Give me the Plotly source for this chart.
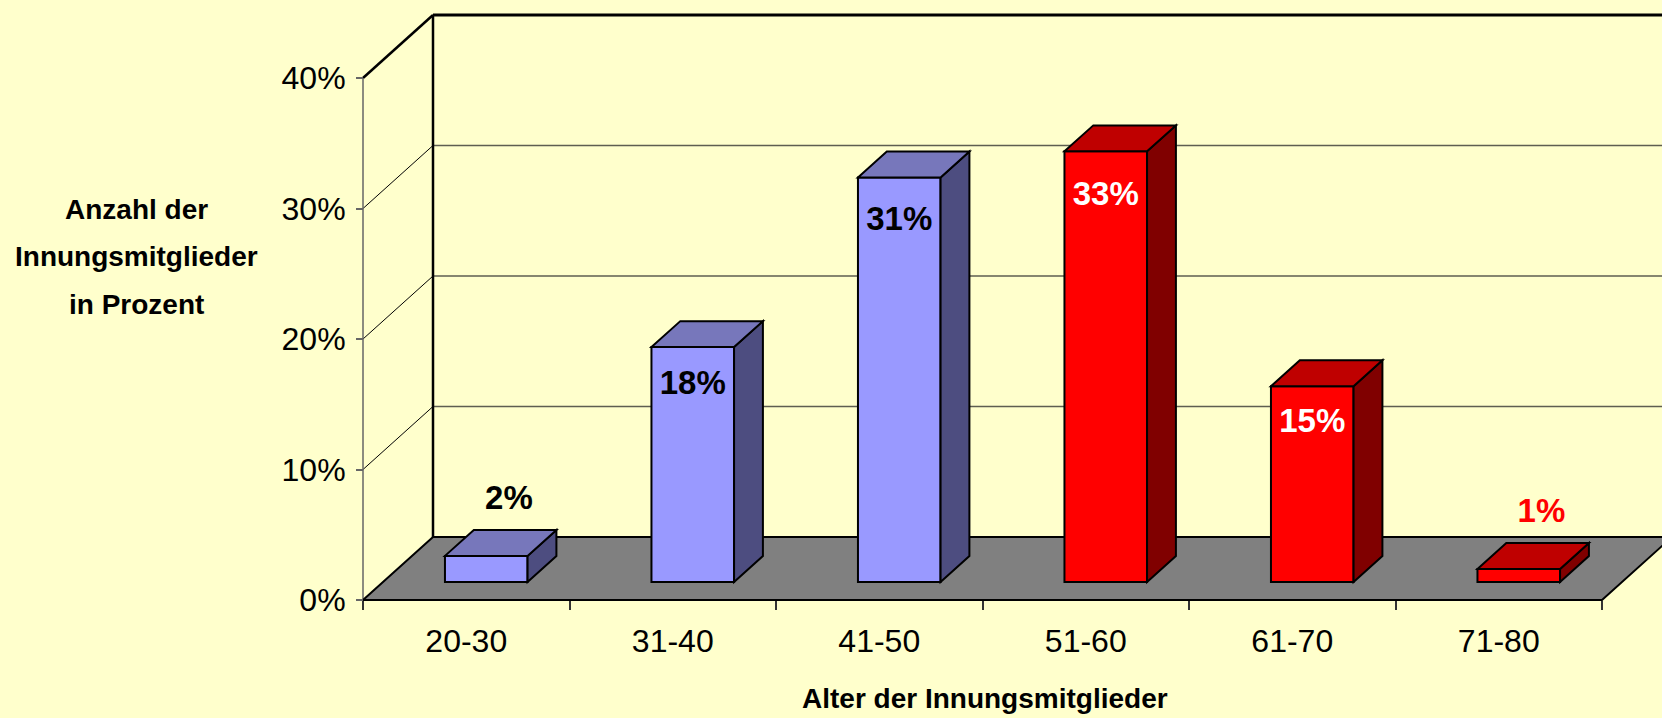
import plotly.graph_objects as go

# ---------------- data ----------------
categories = ["20-30", "31-40", "41-50", "51-60", "61-70", "71-80"]
values = [2, 18, 31, 33, 15, 1]
series_group = ["blue", "blue", "blue", "red", "red", "red"]
y_ticks = [0, 10, 20, 30, 40]
y_tick_labels = ["0%", "10%", "20%", "30%", "40%"]
x_title = "Alter der Innungsmitglieder"
y_title_lines = ["Anzahl der", "Innungsmitglieder", "in Prozent"]

# ---------------- styles ----------------
W, H = 1662, 718
BG = "#FFFFCC"
FACE = {
    "blue": {"front": "#9999FF", "top": "#7777BB", "side": "#4D4D80"},
    "red": {"front": "#FF0000", "top": "#BF0000", "side": "#800000"},
}
LABEL_INSIDE_COLOR = {"blue": "#000000", "red": "#FFFFFF"}
LABEL_OUTSIDE_COLOR = {"blue": "#000000", "red": "#FF0000"}
FONT = "Liberation Sans Narrow, Arial Narrow, Liberation Sans, Arial, sans-serif"

# pixel geometry of the pseudo-3D projection
ML, MR, MT, MB = 330, 0, 0, 100
PLOT_W, PLOT_H = W - ML - MR, H - MT - MB
AXIS_X_PX, AXIS_Y_PX = 363, 600           # front axis origin (pixels)
PX_PER_CAT, PX_PER_PCT = 206.5, 13.05
DX = 70 / PX_PER_CAT                      # depth offset in category units
DY = 63 / PX_PER_PCT                      # depth offset in percent units
T0, T1 = 0.286, 0.698                     # bar depth span (0=front, 1=back)
BAR_W = 0.40
N = len(categories)
Y_MAX = y_ticks[-1]

x_range = [(ML - AXIS_X_PX) / PX_PER_CAT, (W - MR - AXIS_X_PX) / PX_PER_CAT]
y_range = [(AXIS_Y_PX - (MT + PLOT_H)) / PX_PER_PCT, (AXIS_Y_PX - MT) / PX_PER_PCT]


def px_to_paper(px, py):
    return (px - ML) / PLOT_W, (MT + PLOT_H - py) / PLOT_H


def proj(x, y, t):
    return x + t * DX, y + t * DY


def path(points):
    return "M " + " L ".join(f"{x:.4f},{y:.4f}" for x, y in points) + " Z"


shapes = []


def poly(points, fill, lw=2, lc="#000000"):
    shapes.append(dict(type="path", path=path(points), xref="x", yref="y",
                       fillcolor=fill, line=dict(color=lc, width=lw), layer="below"))


def line(p1, p2, color, width):
    shapes.append(dict(type="line", xref="x", yref="y", x0=p1[0], y0=p1[1],
                       x1=p2[0], y1=p2[1], line=dict(color=color, width=width),
                       layer="below"))


# back wall gridlines
for v in y_ticks[1:-1]:
    line(proj(0, v, 1), proj(N + 1, v, 1), "#5E5E50", 1.5)
# side wall diagonals
for v in y_ticks[1:-1]:
    line(proj(0, v, 0), proj(0, v, 1), "#000000", 1)
line(proj(0, Y_MAX, 0), proj(0, Y_MAX, 1), "#000000", 2.5)
# back wall frame
line(proj(0, 0, 1), proj(0, Y_MAX, 1), "#000000", 2.5)
line(proj(0, Y_MAX, 1), proj(N + 1, Y_MAX, 1), "#000000", 3)
# front value axis line
line((0, 0), (0, Y_MAX), "#666666", 1.5)
# floor
poly([proj(0, 0, 0), proj(N, 0, 0), proj(N, 0, 1), proj(0, 0, 1)], "#808080", lw=2)

# bars
lab_x, lab_y, lab_text, lab_color = [], [], [], []
for i, (v, g) in enumerate(zip(values, series_group)):
    c = i + 0.5
    xl, xr = c - BAR_W / 2, c + BAR_W / 2
    poly([proj(xl, 0, T0), proj(xr, 0, T0), proj(xr, v, T0), proj(xl, v, T0)], FACE[g]["front"])
    poly([proj(xr, 0, T0), proj(xr, 0, T1), proj(xr, v, T1), proj(xr, v, T0)], FACE[g]["side"])
    poly([proj(xl, v, T0), proj(xr, v, T0), proj(xr, v, T1), proj(xl, v, T1)], FACE[g]["top"])
    if v >= 5:
        x, y = proj(c, v - (2.3 + 0.036 * v), T0)
        col = LABEL_INSIDE_COLOR[g]
    else:
        x = proj(c + 0.04, 0, (T0 + T1) / 2)[0]
        y = v + T1 * DY + 2.25
        col = LABEL_OUTSIDE_COLOR[g]
    lab_x.append(x)
    lab_y.append(y)
    lab_text.append(f"{v}%")
    lab_color.append(col)

fig = go.Figure()
fig.add_trace(go.Scatter(
    x=lab_x, y=lab_y, text=lab_text, mode="text",
    textfont=dict(family=FONT, size=33, color=lab_color, weight="bold"),
    textposition="middle center", hoverinfo="skip", showlegend=False,
    cliponaxis=False,
))
# invisible trace on the tick-mark axis
fig.add_trace(go.Scatter(x=[0], y=[0], xaxis="x2", mode="markers",
                         marker=dict(opacity=0), hoverinfo="skip", showlegend=False))

xpos = px_to_paper(0, AXIS_Y_PX)[1]
ypos = px_to_paper(AXIS_X_PX, 0)[0]

annotations = []
ax, ay = px_to_paper(985, 698)
annotations.append(dict(text=x_title, x=ax, y=ay, xref="paper", yref="paper",
                        showarrow=False, xanchor="center", yanchor="middle",
                        font=dict(family=FONT, size=28, color="#000000", weight="bold")))
for k, t in enumerate(y_title_lines):
    tx, ty = px_to_paper(136, 209 + 47.5 * k)
    annotations.append(dict(text=t, x=tx, y=ty, xref="paper", yref="paper",
                            showarrow=False, xanchor="center", yanchor="middle",
                            font=dict(family=FONT, size=28, color="#000000", weight="bold")))

fig.update_layout(
    width=W, height=H,
    margin=dict(l=ML, r=MR, t=MT, b=MB, pad=0),
    paper_bgcolor=BG, plot_bgcolor=BG,
    shapes=shapes, annotations=annotations,
    showlegend=False,
    xaxis=dict(range=x_range, anchor="free", position=xpos,
               tickmode="array", tickvals=[i + 0.5 for i in range(N)], ticktext=categories,
               ticks="", ticklabelstandoff=19, showline=False, showgrid=False, zeroline=False,
               tickfont=dict(family=FONT, size=32, color="#000000")),
    xaxis2=dict(range=x_range, anchor="free", position=xpos, overlaying="x",
                tickmode="array", tickvals=list(range(N + 1)), ticks="outside",
                ticklen=9, tickwidth=1.5, tickcolor="#333333", showticklabels=False,
                showline=False, showgrid=False, zeroline=False),
    yaxis=dict(range=y_range, anchor="free", position=ypos,
               tickmode="array", tickvals=y_ticks, ticktext=y_tick_labels,
               ticks="outside", ticklen=7, tickwidth=1.5, tickcolor="#666666",
               ticklabelstandoff=4,
               showline=False, showgrid=False, zeroline=False,
               tickfont=dict(family=FONT, size=32, color="#000000")),
)

fig.write_html(
    "out.html",
    config={"displayModeBar": False},
    post_script=(
        "document.documentElement.style.background='#FFFFCC';"
        "document.body.style.margin='0px';document.body.style.padding='0px';"
        "document.body.style.background='#FFFFCC';document.body.style.overflow='hidden';"
    ),
)
